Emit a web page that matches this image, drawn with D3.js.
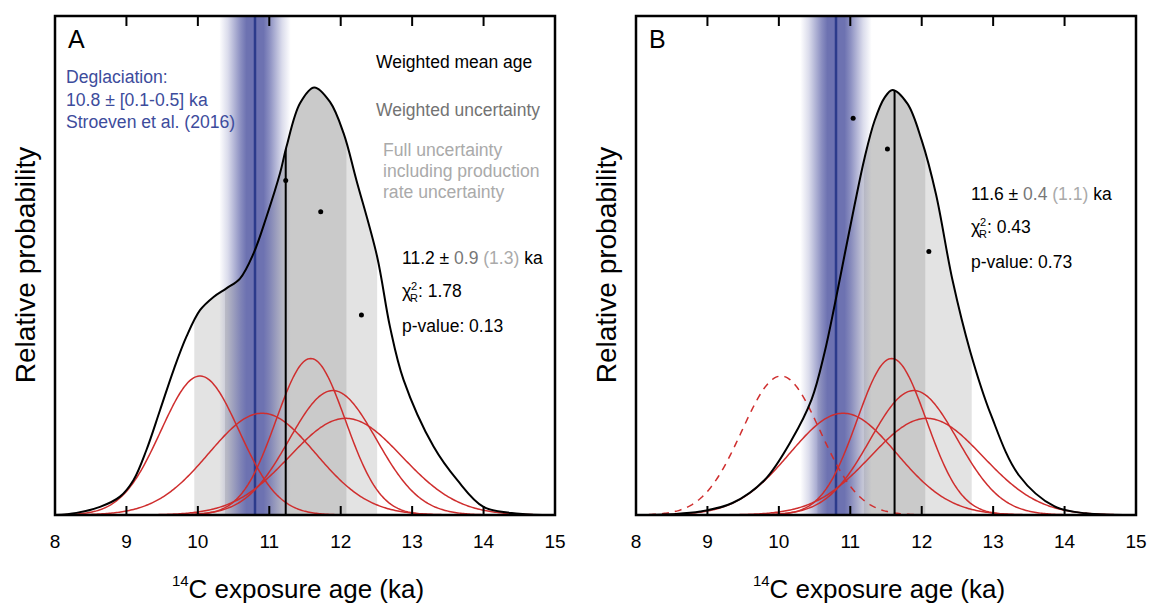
<!DOCTYPE html>
<html>
<head>
<meta charset="utf-8">
<script src="https://cdn.jsdelivr.net/npm/d3@7"></script>
<style>
body { margin: 0; background: #fff; }
text { font-family: "Liberation Sans", Arial, sans-serif; }
</style>
</head>
<body>
<svg id="chart" width="1149" height="606"></svg>
<script>
const tickValues = [8, 9, 10, 11, 12, 13, 14, 15];

// individual sample PDFs (age, 1 sigma, peak height)
const sampleAge = [10.03, 10.90, 11.58, 11.89, 12.07];
const sampleSigma = [0.547, 0.747, 0.485, 0.611, 0.786];
const samplePeak = [0.325, 0.238, 0.366, 0.291, 0.226];
const outlierB = [true, false, false, false, false];

// summed probability
const sumAgeA = [8.0, 8.3, 8.63, 8.91, 9.10, 9.28, 9.47, 9.66, 9.84, 10.03, 10.22, 10.40, 10.59, 10.78, 10.96, 11.15, 11.24, 11.43, 11.63, 11.85, 12.04, 12.22, 12.51, 12.69, 12.88, 13.30, 13.63, 14.0, 14.5, 15.0];
const sumProbA = [0.0, 0.005, 0.019, 0.043, 0.082, 0.152, 0.245, 0.339, 0.417, 0.479, 0.510, 0.530, 0.553, 0.612, 0.697, 0.799, 0.861, 0.963, 1.0, 0.966, 0.893, 0.783, 0.604, 0.440, 0.316, 0.160, 0.082, 0.019, 0.003, 0.0];
const sumAgeB = [8.0, 8.5, 8.9, 9.35, 9.80, 10.18, 10.46, 10.64, 10.78, 10.92, 11.06, 11.20, 11.34, 11.48, 11.59, 11.8, 12.0, 12.2, 12.43, 12.68, 12.97, 13.36, 13.86, 14.3, 15.0];
const sumProbB = [0.0, 0.002, 0.008, 0.028, 0.082, 0.176, 0.271, 0.380, 0.490, 0.608, 0.725, 0.835, 0.922, 0.976, 0.994, 0.962, 0.876, 0.75, 0.55, 0.382, 0.234, 0.093, 0.02, 0.004, 0.0];

// black dots
const dotAgeA = [11.23, 11.72, 12.29];
const dotProbA = [0.782, 0.709, 0.468];
const dotAgeB = [11.04, 11.52, 12.10];
const dotProbB = [0.928, 0.856, 0.616];

// weighted mean, weighted and full uncertainty
const meanAge = [11.23, 11.62];
const weightedUnc = [0.85, 0.43];
const fullUnc = [1.28, 1.08];
const statText = [["11.2", "0.9", "1.3", "1.78", "0.13"], ["11.6", "0.4", "1.1", "0.43", "0.73"]];

// deglaciation age (Stroeven et al. 2016)
const deglacAge = 10.8;
const deglacUnc = 0.5;

const svg = d3.select("#chart");
const y = d3.scaleLinear().domain([0, 1.167]).range([515, 16]);
const plotTop = 16, plotBottom = 515;

const defs = svg.append("defs");
const grad = defs.append("linearGradient").attr("id", "blueGrad")
    .attr("x1", 0).attr("x2", 1).attr("y1", 0).attr("y2", 0);
[[0, 0], [0.12, 0.25], [0.3, 0.8], [0.38, 1], [0.62, 1], [0.7, 0.8], [0.88, 0.25], [1, 0]]
    .forEach(s => grad.append("stop").attr("offset", s[0])
        .attr("stop-color", "#6d72b1").attr("stop-opacity", s[1]));

function gauss(mu, sd, peak) {
    return d3.range(8, 15.001, 0.02).map(a => [a, peak * Math.exp(-0.5 * ((a - mu) / sd) ** 2)]);
}

function drawPanel(i, x0, label, sumAge, sumProb, dotAge, dotProb, statX, statY) {
    const x = d3.scaleLinear().domain([8, 15]).range([x0, x0 + 500]);
    const g = svg.append("g");
    const sumData = sumAge.map((a, k) => [a, sumProb[k]]);

    const smooth = d3.curveCatmullRom.alpha(0.5);
    const area = d3.area().x(d => x(d[0])).y0(plotBottom).y1(d => y(d[1])).curve(smooth);
    const sumLine = d3.line().x(d => x(d[0])).y(d => y(d[1])).curve(smooth);
    const line = d3.line().x(d => x(d[0])).y(d => y(d[1]));

    const clipId = "clip" + i;
    defs.append("clipPath").attr("id", clipId).append("path").attr("d", area(sumData));

    const fill = g.append("g").attr("clip-path", `url(#${clipId})`);
    fill.append("rect")
        .attr("x", x(meanAge[i] - fullUnc[i])).attr("width", x(meanAge[i] + fullUnc[i]) - x(meanAge[i] - fullUnc[i]))
        .attr("y", plotTop).attr("height", plotBottom - plotTop).attr("fill", "#e3e3e3");
    fill.append("rect")
        .attr("x", x(meanAge[i] - weightedUnc[i])).attr("width", x(meanAge[i] + weightedUnc[i]) - x(meanAge[i] - weightedUnc[i]))
        .attr("y", plotTop).attr("height", plotBottom - plotTop).attr("fill", "#cacaca");

    // deglaciation band
    g.append("rect")
        .attr("x", x(deglacAge - deglacUnc)).attr("width", x(deglacAge + deglacUnc) - x(deglacAge - deglacUnc))
        .attr("y", plotTop).attr("height", plotBottom - plotTop).attr("fill", "url(#blueGrad)");
    g.append("line")
        .attr("x1", x(deglacAge)).attr("x2", x(deglacAge)).attr("y1", plotTop).attr("y2", plotBottom)
        .attr("stroke", "#2c3b8c").attr("stroke-width", 2.5);

    // sample curves
    sampleAge.forEach((a, k) => {
        const dashed = i === 1 && outlierB[k];
        g.append("path")
            .attr("d", line(gauss(a, sampleSigma[k], samplePeak[k])))
            .attr("fill", "none").attr("stroke", "#cf2e2e").attr("stroke-width", 1.5)
            .attr("stroke-dasharray", dashed ? "7,6" : null);
    });

    // summed curve
    g.append("path").attr("d", sumLine(sumData))
        .attr("fill", "none").attr("stroke", "#000").attr("stroke-width", 2);

    // weighted mean line
    g.append("line").attr("clip-path", `url(#${clipId})`)
        .attr("x1", x(meanAge[i])).attr("x2", x(meanAge[i])).attr("y1", plotTop).attr("y2", plotBottom)
        .attr("stroke", "#000").attr("stroke-width", 2);

    g.selectAll(".dot").data(dotAge).enter().append("circle")
        .attr("cx", d => x(d)).attr("cy", (d, k) => y(dotProb[k])).attr("r", 2.5).attr("fill", "#000");

    // frame and ticks
    g.append("rect").attr("x", x0).attr("y", plotTop).attr("width", 500).attr("height", plotBottom - plotTop)
        .attr("fill", "none").attr("stroke", "#000").attr("stroke-width", 2.5);
    const inner = tickValues.slice(1, -1);
    g.selectAll(".tb").data(inner).enter().append("line")
        .attr("x1", d => x(d)).attr("x2", d => x(d)).attr("y1", plotBottom).attr("y2", plotBottom - 9)
        .attr("stroke", "#000").attr("stroke-width", 2);
    g.selectAll(".tt").data(inner).enter().append("line")
        .attr("x1", d => x(d)).attr("x2", d => x(d)).attr("y1", plotTop).attr("y2", plotTop + 10)
        .attr("stroke", "#000").attr("stroke-width", 2);
    g.selectAll(".tl").data(tickValues).enter().append("text")
        .attr("x", d => x(d)).attr("y", 548).attr("text-anchor", "middle")
        .attr("font-size", 19).text(d => d);

    // panel letter
    g.append("text").attr("x", x0 + 13).attr("y", 48).attr("font-size", 25).text(label);

    // axis titles
    const xt = g.append("text").attr("x", x0 + 243).attr("y", 598)
        .attr("text-anchor", "middle").attr("font-size", 26);
    xt.append("tspan").attr("font-size", 15).attr("dy", -12).text("14");
    xt.append("tspan").attr("dy", 12).text("C exposure age (ka)");
    g.append("text").attr("transform", `translate(${x0 - 20},265) rotate(-90)`)
        .attr("text-anchor", "middle").attr("font-size", 28).text("Relative probability");

    // statistics
    const s = statText[i];
    const t1 = g.append("text").attr("x", statX).attr("y", statY).attr("font-size", 17.5);
    t1.append("tspan").attr("fill", "#000").text(s[0] + " \u00b1 ");
    t1.append("tspan").attr("fill", "#777").text(s[1] + " ");
    t1.append("tspan").attr("fill", "#aaa").text("(" + s[2] + ")");
    t1.append("tspan").attr("fill", "#000").text(" ka");
    g.append("text").attr("x", statX).attr("y", statY + 33).attr("font-size", 18).text("\u03c7");
    g.append("text").attr("x", statX + 9).attr("y", statY + 26).attr("font-size", 11).text("2");
    g.append("text").attr("x", statX + 8).attr("y", statY + 38).attr("font-size", 11).text("R");
    g.append("text").attr("x", statX + 16).attr("y", statY + 33).attr("font-size", 17.5).text(": " + s[3]);
    g.append("text").attr("x", statX).attr("y", statY + 68).attr("font-size", 17.5).text("p-value: " + s[4]);
    return g;
}

const gA = drawPanel(0, 55, "A", sumAgeA, sumProbA, dotAgeA, dotProbA, 402, 264);
drawPanel(1, 636, "B", sumAgeB, sumProbB, dotAgeB, dotProbB, 971, 200);

// legend text in panel A
const blue = "#3d4c9c";
["Deglaciation:", "10.8 \u00b1 [0.1-0.5] ka", "Stroeven et al. (2016)"].forEach((t, k) => {
    gA.append("text").attr("x", 66).attr("y", 83 + k * 22.5).attr("font-size", 17.6)
        .attr("fill", blue).text(t);
});
gA.append("text").attr("x", 376).attr("y", 68).attr("font-size", 17.5).attr("fill", "#000").text("Weighted mean age");
gA.append("text").attr("x", 376).attr("y", 116).attr("font-size", 17.5).attr("fill", "#737373").text("Weighted uncertainty");
["Full uncertainty", "including production", "rate uncertainty"].forEach((t, k) => {
    gA.append("text").attr("x", 383).attr("y", 156 + k * 21).attr("font-size", 17.6)
        .attr("fill", "#aaaaaa").text(t);
});
</script>
</body>
</html>
